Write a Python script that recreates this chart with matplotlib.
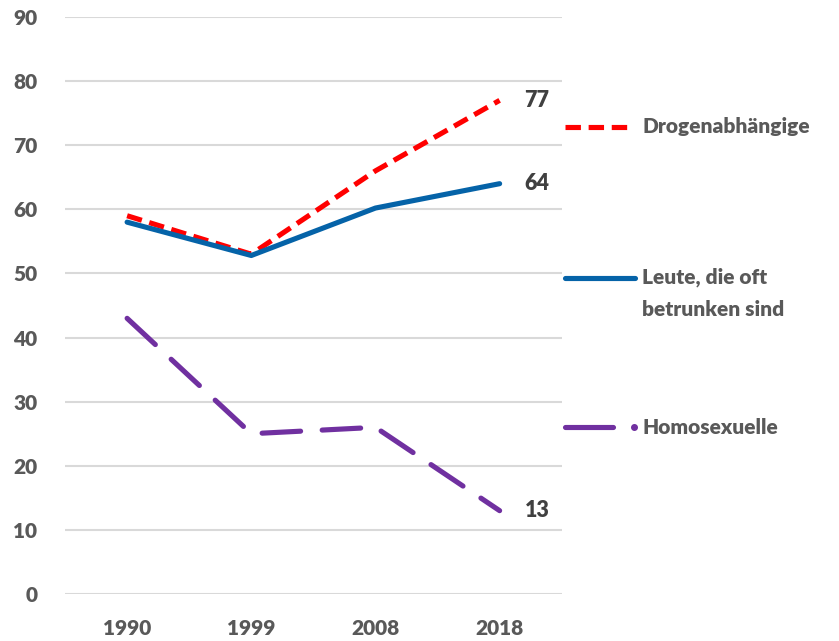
import matplotlib
matplotlib.use('Agg')
import matplotlib.pyplot as plt

# data
years = ['1990', '1999', '2008', '2018']
drogen = [59, 53, 66, 77]
leute = [58, 52.8, 60.2, 64]
homo = [43, 25, 26, 13]

series_names = ['Drogenabhängige', 'Leute, die oft\nbetrunken sind', 'Homosexuelle']
legend_y = [72.9, 49.3, 26]

plt.rcParams['font.family'] = ['Lato', 'DejaVu Sans']
plt.rcParams['font.weight'] = 'bold'

RED = '#FF0000'
BLUE = '#0563A8'
PURPLE = '#7030A0'
GREY = '#595959'

fig = plt.figure(figsize=(8.39, 6.41), dpi=100)
ax = fig.add_axes([0.0775, 0.0733, 0.592, 0.9002])

LW = 3.7
red_ls = (0, (3.0, 1.5))
homo_ls = (0, (7.5, 4.2))

x = list(range(len(years)))
ax.plot(x, drogen, color=RED, lw=LW, ls=red_ls, dash_capstyle='butt', zorder=3)
ax.plot(x, leute, color=BLUE, lw=LW, solid_capstyle='round', zorder=3)
ax.plot(x, homo, color=PURPLE, lw=LW, ls=homo_ls, dash_capstyle='round', zorder=3)

# end labels
for vals in (drogen, leute, homo):
    ax.annotate(f'{vals[-1]:.0f}', (x[-1], vals[-1]), xytext=(18, 0), textcoords='offset points',
                ha='left', va='center', fontsize=15.5, fontweight='heavy', color='#404040')

ax.set_xlim(-0.5, 3.5)
ax.set_ylim(0, 90)
ax.set_yticks(range(0, 91, 10))
ax.set_xticks(x)
ax.set_xticklabels(years)
ax.grid(axis='y', color='#D9D9D9', lw=1.5)
ax.set_axisbelow(True)
for s in ax.spines.values():
    s.set_visible(False)
ax.tick_params(length=0, labelsize=15, labelcolor=GREY, pad=18)
ax.tick_params(axis='y', pad=20)
for lab in ax.get_xticklabels() + ax.get_yticklabels():
    lab.set_fontweight('heavy')

# legend drawn by hand at the right
ax.plot([3.53, 4.07], [legend_y[0]] * 2, color=RED, lw=LW, ls=red_ls, clip_on=False)
ax.plot([3.53, 4.09], [legend_y[1]] * 2, color=BLUE, lw=LW, solid_capstyle='round', clip_on=False)
ax.plot([3.53, 3.91], [legend_y[2]] * 2, color=PURPLE, lw=LW, solid_capstyle='round', clip_on=False)
ax.plot([4.08], [legend_y[2]], 'o', color=PURPLE, ms=4, clip_on=False)

for name, yy in zip(series_names, legend_y):
    if '\n' in name:
        ax.text(4.15, yy + 1.6, name, ha='left', va='top', fontsize=15, fontweight='heavy',
                color=GREY, linespacing=1.8, clip_on=False)
    else:
        ax.text(4.15, yy, name, ha='left', va='center', fontsize=15, fontweight='heavy',
                color=GREY, clip_on=False)

fig.savefig('out.png', dpi=100)
